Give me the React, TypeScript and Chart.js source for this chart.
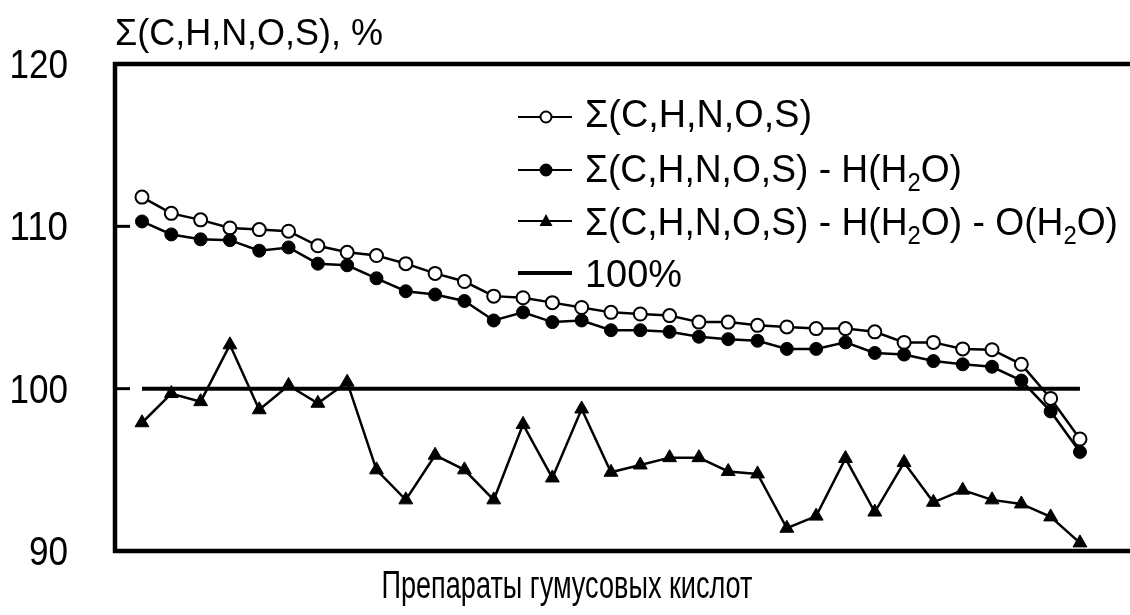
import { useEffect, useRef } from "react";
import { Chart, registerables } from "chart.js";

Chart.register(...registerables);

// ---- data ----
const samples = [1, 2, 3, 4, 5, 6, 7, 8, 9, 10, 11, 12, 13, 14, 15, 16, 17, 18, 19, 20, 21, 22, 23, 24, 25, 26, 27, 28, 29, 30, 31, 32, 33];
const sumCHNOS = [111.8, 110.8, 110.4, 109.9, 109.8, 109.7, 108.8, 108.4, 108.2, 107.7, 107.1, 106.6, 105.7, 105.6, 105.3, 105.0, 104.7, 104.6, 104.5, 104.1, 104.1, 103.9, 103.8, 103.7, 103.7, 103.5, 102.85, 102.85, 102.45, 102.4, 101.5, 99.4, 96.9];
const sumMinusH = [110.3, 109.5, 109.2, 109.15, 108.5, 108.7, 107.7, 107.6, 106.8, 106.0, 105.8, 105.4, 104.2, 104.7, 104.1, 104.2, 103.6, 103.6, 103.5, 103.2, 103.05, 102.95, 102.45, 102.45, 102.85, 102.2, 102.1, 101.7, 101.5, 101.35, 100.5, 98.6, 96.1];
const sumMinusHO = [97.9, 99.7, 99.2, 102.7, 98.7, 100.2, 99.1, 100.4, 95.0, 93.15, 95.9, 95.0, 93.15, 97.8, 94.5, 98.75, 94.85, 95.3, 95.75, 95.75, 94.9, 94.75, 91.4, 92.15, 95.7, 92.4, 95.45, 93.0, 93.75, 93.15, 92.9, 92.1, 90.5];
const referenceLevel = 100;
const yTickValues = [90, 100, 110, 120];
const yTitle = "Σ(C,H,N,O,S), %";
const xTitle = "Препараты гумусовых кислот";
type Run = { t: string; sub?: boolean };
const legendRows: { runs: Run[]; marker: string }[] = [
  { runs: [{ t: "Σ(C,H,N,O,S)" }], marker: "open" },
  { runs: [{ t: "Σ(C,H,N,O,S) - H(H" }, { t: "2", sub: true }, { t: "O)" }], marker: "filled" },
  { runs: [{ t: "Σ(C,H,N,O,S) - H(H" }, { t: "2", sub: true }, { t: "O) - O(H" }, { t: "2", sub: true }, { t: "O)" }], marker: "triangle" },
  { runs: [{ t: "100%" }], marker: "none" },
];

const FONT = '"Liberation Sans", Arial, sans-serif';

function drawRuns(
  ctx: CanvasRenderingContext2D,
  runs: Run[],
  x: number,
  baseline: number,
  size: number,
  targetWidth: number,
  align: "left" | "right" | "center" = "left"
) {
  let natural = 0;
  const widths: number[] = [];
  for (const r of runs) {
    ctx.font = `${r.sub ? Math.round(size * 0.65) : size}px ${FONT}`;
    const w = ctx.measureText(r.t).width;
    widths.push(w);
    natural += w;
  }
  const scale = targetWidth ? targetWidth / natural : 1;
  const total = natural * scale;
  let startX = x;
  if (align === "right") startX = x - total;
  if (align === "center") startX = x - total / 2;
  ctx.save();
  ctx.translate(startX, baseline);
  ctx.scale(scale, 1);
  ctx.fillStyle = "#000";
  ctx.textAlign = "left";
  ctx.textBaseline = "alphabetic";
  let cx = 0;
  runs.forEach((r, i) => {
    ctx.font = `${r.sub ? Math.round(size * 0.65) : size}px ${FONT}`;
    ctx.fillText(r.t, cx, r.sub ? size * 0.22 : 0);
    cx += widths[i];
  });
  ctx.restore();
}

function drawMarker(ctx: CanvasRenderingContext2D, kind: string, x: number, y: number) {
  ctx.save();
  ctx.lineWidth = 2;
  ctx.strokeStyle = "#000";
  if (kind === "open" || kind === "filled") {
    ctx.beginPath();
    ctx.arc(x, y, 5.5, 0, Math.PI * 2);
    ctx.fillStyle = kind === "open" ? "#fff" : "#000";
    ctx.fill();
    ctx.stroke();
  } else if (kind === "triangle") {
    ctx.beginPath();
    ctx.moveTo(x, y - 7);
    ctx.lineTo(x + 6.5, y + 5);
    ctx.lineTo(x - 6.5, y + 5);
    ctx.closePath();
    ctx.fillStyle = "#000";
    ctx.fill();
  }
  ctx.restore();
}

const decorPlugin = {
  id: "decor",
  beforeDatasetsDraw(chart: any) {
    const ctx: CanvasRenderingContext2D = chart.ctx;
    const { left, top, bottom } = chart.chartArea;
    const yScale = chart.scales.y;
    ctx.save();
    ctx.strokeStyle = "#000";
    ctx.lineCap = "butt";
    ctx.lineWidth = 4.5;
    ctx.beginPath();
    ctx.moveTo(left - 2, top);
    ctx.lineTo(1130, top);
    ctx.moveTo(left - 2, bottom);
    ctx.lineTo(1130, bottom);
    ctx.stroke();
    ctx.beginPath();
    ctx.moveTo(left, top - 2);
    ctx.lineTo(left, bottom + 2);
    ctx.stroke();
    ctx.lineWidth = 3;
    for (const v of yTickValues) {
      const py = yScale.getPixelForValue(v);
      ctx.beginPath();
      ctx.moveTo(left, py);
      ctx.lineTo(left + 15, py);
      ctx.stroke();
    }
    ctx.restore();
  },
  afterDraw(chart: any) {
    const ctx: CanvasRenderingContext2D = chart.ctx;
    const yScale = chart.scales.y;
    for (const v of yTickValues) {
      const py = yScale.getPixelForValue(v);
      const label = String(v);
      drawRuns(ctx, [{ t: label }], 68, py + 14, 40, 19.5 * label.length, "right");
    }
    drawRuns(ctx, [{ t: yTitle }], 115, 45, 36, 268, "left");
    drawRuns(ctx, [{ t: xTitle }], 567, 598, 38, 371, "center");
    const lineY = [117, 170, 221, 273];
    const baseY = [127, 182, 235, 287];
    const widths = [227, 377, 533, 97];
    legendRows.forEach((row, i) => {
      ctx.save();
      ctx.strokeStyle = "#000";
      ctx.lineWidth = row.marker === "none" ? 4 : 2;
      ctx.beginPath();
      ctx.moveTo(518, lineY[i]);
      ctx.lineTo(572, lineY[i]);
      ctx.stroke();
      ctx.restore();
      drawMarker(ctx, row.marker, 546, lineY[i]);
      drawRuns(ctx, row.runs, 585, baseY[i], 39, widths[i], "left");
    });
  },
};

export default function App() {
  const canvasRef = useRef<HTMLCanvasElement | null>(null);

  useEffect(() => {
    if (!canvasRef.current) return;
    const pts = (arr: number[]) => samples.map((s, i) => ({ x: s, y: arr[i] }));
    const chart = new Chart(canvasRef.current, {
      type: "line",
      data: {
        datasets: [
          {
            label: "Σ(C,H,N,O,S) - H(H2O)",
            data: pts(sumMinusH),
            borderColor: "#000",
            borderWidth: 2.5,
            pointStyle: "circle",
            pointRadius: 6.5,
            pointBackgroundColor: "#000",
            pointBorderColor: "#000",
            pointBorderWidth: 1,
            tension: 0,
            clip: false,
          },
          {
            label: "Σ(C,H,N,O,S)",
            data: pts(sumCHNOS),
            borderColor: "#000",
            borderWidth: 2.5,
            pointStyle: "circle",
            pointRadius: 6.5,
            pointBackgroundColor: "#fff",
            pointBorderColor: "#000",
            pointBorderWidth: 2,
            tension: 0,
            clip: false,
          },
          {
            label: "Σ(C,H,N,O,S) - H(H2O) - O(H2O)",
            data: pts(sumMinusHO),
            borderColor: "#000",
            borderWidth: 2.5,
            pointStyle: "triangle",
            pointRadius: 8,
            pointBackgroundColor: "#000",
            pointBorderColor: "#000",
            pointBorderWidth: 1,
            tension: 0,
            clip: false,
          },
          {
            label: "100%",
            data: samples.map((s) => ({ x: s, y: referenceLevel })),
            borderColor: "#000",
            borderWidth: 4,
            pointRadius: 0,
            tension: 0,
            clip: false,
          },
        ],
      },
      options: {
        animation: false,
        responsive: false,
        layout: { padding: { left: 115, right: 0, top: 64, bottom: 64 } },
        plugins: { legend: { display: false }, tooltip: { enabled: false } },
        scales: {
          x: { type: "linear", display: false, min: 0.079, max: 34.4 },
          y: { type: "linear", display: false, min: 90, max: 120 },
        },
      },
      plugins: [decorPlugin],
    });
    return () => chart.destroy();
  }, []);

  return (
    <div style={{ position: "fixed", left: 0, top: 0, width: 1130, height: 615, background: "#fff" }}>
      <canvas ref={canvasRef} width={1130} height={615} style={{ width: 1130, height: 615, display: "block" }} />
    </div>
  );
}
